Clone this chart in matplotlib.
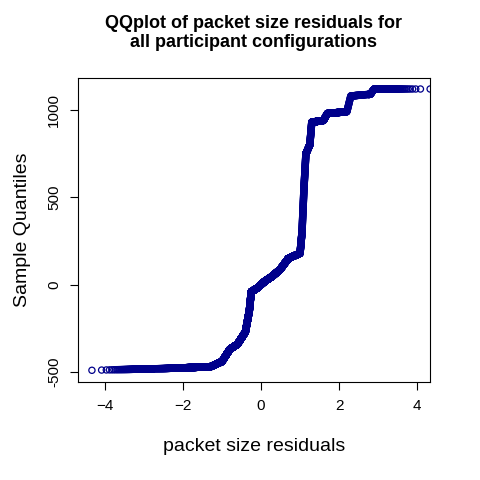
import numpy as np
import matplotlib
matplotlib.use("Agg")
import matplotlib.pyplot as plt
from statistics import NormalDist

plt.rcParams['font.family'] = ['Liberation Sans', 'DejaVu Sans']

# knots: theoretical quantile -> sample quantile
knot_z = [-4.33, -2.5, -1.3, -1.0, -0.8, -0.6, -0.4, -0.3, -0.25, -0.1, 0.1, 0.3, 0.5, 0.7, 0.9, 1.0,
          1.05, 1.1, 1.15, 1.25, 1.3, 1.6, 1.7, 2.2, 2.3, 2.8, 2.9, 4.33]
knot_y = [-490, -480, -470, -440, -370, -340, -270, -150, -40, -20, 20, 50, 90, 150, 170, 180,
          300, 550, 750, 800, 930, 940, 980, 990, 1080, 1090, 1120, 1120]
n_points = 68000

nd = NormalDist()
p = (np.arange(1, n_points + 1) - 0.5) / n_points
z = np.array([nd.inv_cdf(v) for v in p])
y = np.interp(z, knot_z, knot_y)
idx = np.unique(np.concatenate([np.arange(0, n_points, 10), np.arange(0, 200), np.arange(n_points - 200, n_points)]))
z, y = z[idx], y[idx]

fig = plt.figure(figsize=(4.8, 4.8), dpi=100)
ax = fig.add_axes([78/480, (480-382)/480, 352/480, 304/480])
ax.scatter(z, y, s=20, facecolors='none', edgecolors='#00008B', linewidths=0.9)
ax.set_xlim(-4.69, 4.33)
ax.set_ylim(-557, 1183)
ax.set_xticks([-4, -2, 0, 2, 4])
ax.set_yticks([-500, 0, 500, 1000])
ax.set_yticklabels(['-500', '0', '500', '1000'], rotation=90, va='center')
ax.tick_params(labelsize=11, direction='out', length=6, pad=6)
ax.set_xlabel('packet size residuals', fontsize=14, labelpad=18)
ax.set_ylabel('Sample Quantiles', fontsize=14, labelpad=12)
ax.set_title('QQplot of packet size residuals for\nall participant configurations',
             fontsize=13, fontweight='bold', pad=22)
fig.savefig('out.png', dpi=100)
